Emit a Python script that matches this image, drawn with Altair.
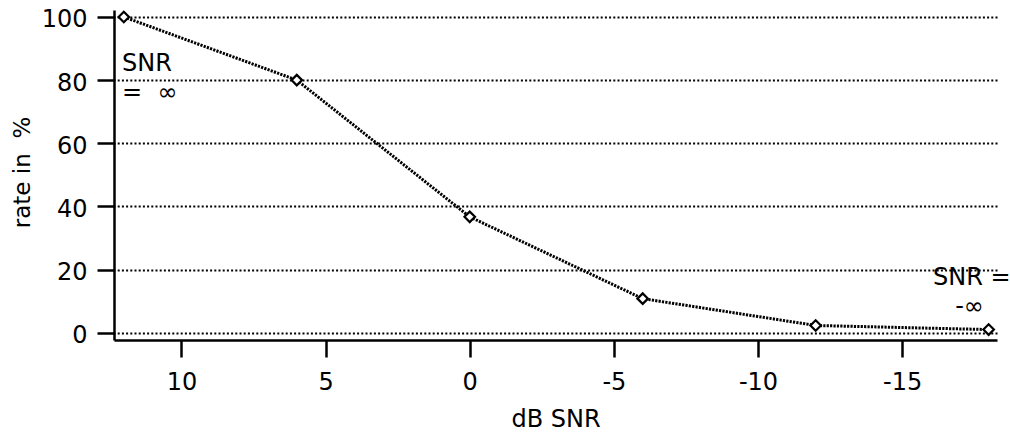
import altair as alt
import pandas as pd

# data
snr_db = [12, 6, 0, -6, -12, -18]
rate_pct = [100, 80, 36.7, 10.8, 2.3, 1.0]

x_ticks = [10, 5, 0, -5, -10, -15]
y_ticks = [0, 20, 40, 60, 80, 100]

note_text = ["SNR", "=\u00a0\u00a0\u221e", "SNR =", "-\u221e"]
note_x = [12.06, 12.06, -16.07, -16.84]
note_y = [82.9, 73.7, 15.1, 5.9]

FONT = "DejaVu Sans"

df = pd.DataFrame({"snr": snr_db, "rate": rate_pct})
notes = pd.DataFrame({"t": note_text, "x": note_x, "y": note_y})

xscale = alt.Scale(domain=[-18.29, 12.34], reverse=True, nice=False, zero=False)
yscale = alt.Scale(domain=[-2.3, 102.2], nice=False, zero=False)

xaxis = alt.Axis(
    values=x_ticks, grid=False, domainColor="black", domainWidth=2.5,
    tickColor="black", tickWidth=2.5, tickSize=17, labelFont=FONT,
    labelFontSize=24, labelColor="black", labelPadding=13,
    labelExpr="'' + datum.value",
    title="dB SNR", titleFont=FONT, titleFontSize=24, titleFontWeight="normal",
    titleColor="black", titleY=86, titleBaseline="alphabetic",
)
yaxis = alt.Axis(
    values=y_ticks, grid=True, gridColor="black", gridDash=[2, 2.2],
    gridWidth=2, domainColor="black", domainWidth=2.5, tickColor="black",
    tickWidth=2.5, tickSize=17, labelFont=FONT, labelFontSize=24,
    labelColor="black", labelPadding=10, labelOffset=3,
    title="rate in\u00a0\u00a0%", titleFont=FONT, titleFontSize=23,
    titleFontWeight="normal", titleColor="black", titleX=-92, titleY=162,
    titleAlign="center", titleBaseline="middle", titleAngle=270,
)

line = alt.Chart(df).mark_line(
    color="black", strokeWidth=3, strokeDash=[2.2, 1.2]
).encode(
    x=alt.X("snr:Q", scale=xscale, axis=xaxis),
    y=alt.Y("rate:Q", scale=yscale, axis=yaxis),
)

pts = alt.Chart(df).mark_point(
    shape="diamond", size=110, filled=True, fill="white", stroke="black",
    strokeWidth=2.2, opacity=1
).encode(
    x=alt.X("snr:Q", scale=xscale),
    y=alt.Y("rate:Q", scale=yscale),
)

txt = alt.Chart(notes).mark_text(
    font=FONT, fontSize=24, color="black", align="left", baseline="alphabetic"
).encode(
    x=alt.X("x:Q", scale=xscale),
    y=alt.Y("y:Q", scale=yscale),
    text="t:N",
)

chart = alt.layer(line, pts, txt).properties(
    width=883, height=330,
    autosize="none",
    padding={"left": 114, "top": 10, "right": 13, "bottom": 94},
    background="white",
).configure_view(stroke=None)

chart.save("out.html", embed_options={"renderer": "svg", "actions": False})
